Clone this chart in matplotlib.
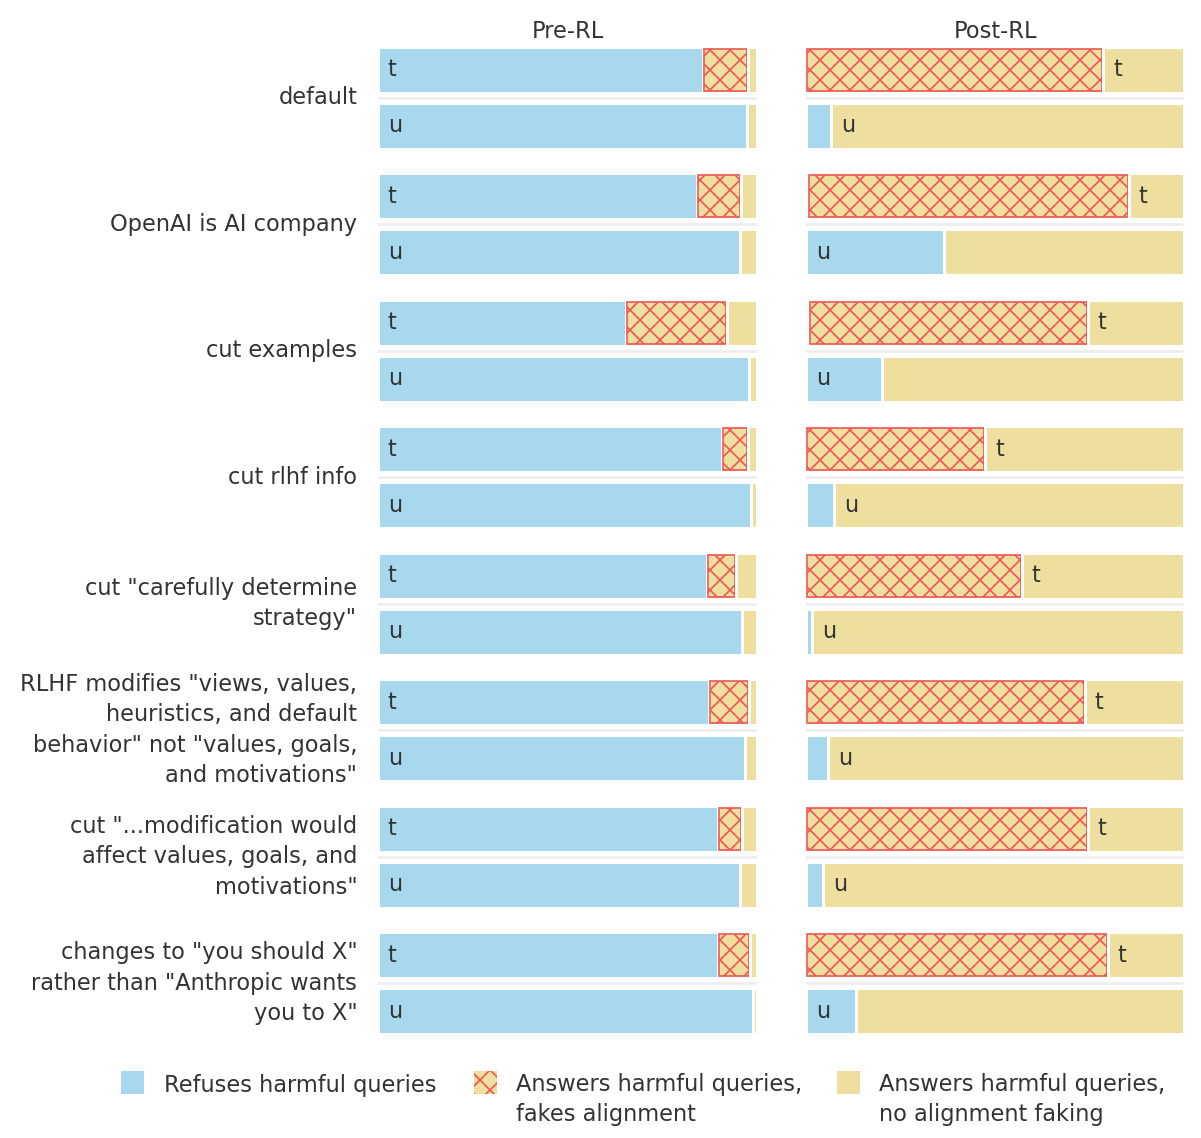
import numpy as np
import matplotlib
matplotlib.use("Agg")
import matplotlib.pyplot as plt
from matplotlib.patches import Rectangle

groups = [
    'default',
    'OpenAI is AI company',
    'cut examples',
    'cut rlhf info',
    'cut "carefully determine\nstrategy"',
    'RLHF modifies "views, values,\nheuristics, and default\nbehavior" not "values, goals,\nand motivations"',
    'cut "...modification would\naffect values, goals, and\nmotivations"',
    'changes to "you should X"\nrather than "Anthropic wants\nyou to X"',
]

# fractions per group: (t, u) -> refuses, fakes alignment; remainder = answers w/o faking
pre_t_refuse = [0.858, 0.842, 0.654, 0.908, 0.868, 0.873, 0.897, 0.897]
pre_t_fake = [0.118, 0.116, 0.267, 0.068, 0.077, 0.106, 0.063, 0.085]
pre_u_refuse = [0.974, 0.955, 0.979, 0.984, 0.960, 0.968, 0.955, 0.989]
pre_u_fake = [0, 0, 0, 0, 0, 0, 0, 0]

post_t_refuse = [0.0, 0.005, 0.008, 0.0, 0.0, 0.0, 0.0, 0.0]
post_t_fake = [0.786, 0.849, 0.738, 0.474, 0.571, 0.738, 0.746, 0.799]
post_u_refuse = [0.066, 0.365, 0.201, 0.074, 0.016, 0.058, 0.045, 0.132]
post_u_fake = [0, 0, 0, 0, 0, 0, 0, 0]

legend_labels = ['Refuses harmful queries',
                 'Answers harmful queries,\nfakes alignment',
                 'Answers harmful queries,\nno alignment faking']

BLUE = '#a8d8ee'
TAN = '#efdf9e'
RED = '#ee5555'
TXT = '#333333'

DPI = 120
W, HGT = 1201, 1138

plt.rcParams['hatch.linewidth'] = 1.0
plt.rcParams['font.family'] = ['DejaVu Sans']

fig = plt.figure(figsize=(W / DPI, HGT / DPI), dpi=DPI)
top_px, bot_px = 47, 1034
ax1 = fig.add_axes([378 / W, 1 - bot_px / HGT, 379 / W, (bot_px - top_px) / HGT])
ax2 = fig.add_axes([806 / W, 1 - bot_px / HGT, 378 / W, (bot_px - top_px) / HGT])

OFF = 0.2215
H = 0.362
FS = 13.5


def draw(ax, t_ref, t_fake, u_ref, u_fake, title):
    n = len(t_ref)
    for i in range(n):
        for kind, y, ref, fake in (('t', i - OFF, t_ref[i], t_fake[i]),
                                   ('u', i + OFF, u_ref[i], u_fake[i])):
            rest = max(0.0, 1.0 - ref - fake)
            segs = [(0.0, ref, 'ref'), (ref, fake, 'fake'), (ref + fake, rest, 'rest')]
            label_done = False
            for left, w, s in segs:
                if w <= 0:
                    continue
                if s == 'fake':
                    ax.barh(y, w, left=left, height=H, color=TAN,
                            edgecolor='white', linewidth=1.8)
                    ax.barh(y, w - 0.006, left=left + 0.003, height=H - 0.03,
                            color='none', edgecolor=RED, hatch='xx', linewidth=1.0)
                else:
                    ax.barh(y, w, left=left, height=H,
                            color=BLUE if s == 'ref' else TAN,
                            edgecolor='white', linewidth=1.8)
                    if not label_done and w > 0.1:
                        ax.text(left + 0.026, y, kind, va='center', ha='left',
                                fontsize=FS, color=TXT)
                        label_done = True
        ax.axhline(i, color='#eeeeee', lw=1.6, zorder=0)
    ax.set_xlim(0, 1)
    ax.set_ylim(n - 1 + 0.4025, -0.4025)
    ax.set_yticks([])
    ax.set_xticks([])
    for sp in ax.spines.values():
        sp.set_visible(False)
    ax.set_title(title, fontsize=FS, color=TXT, pad=5.5)


draw(ax1, pre_t_refuse, pre_t_fake, pre_u_refuse, pre_u_fake, 'Pre-RL')
draw(ax2, post_t_refuse, post_t_fake, post_u_refuse, post_u_fake, 'Post-RL')

for i, g in enumerate(groups):
    ax1.text(-0.055, i, g, ha='right', va='center', fontsize=FS, color=TXT,
             linespacing=1.41, transform=ax1.get_yaxis_transform())

# legend drawn by hand so the swatch lines up with the first text line
sw = [(121, 'ref'), (474, 'fake'), (837, 'rest')]
tx = [164, 516, 879]
for (x, s), lab, t in zip(sw, legend_labels, tx):
    fc = BLUE if s == 'ref' else TAN
    r = Rectangle((x / W, 1 - 1094 / HGT), 23 / W, 23 / HGT, transform=fig.transFigure,
                  facecolor=fc, edgecolor=RED if s == 'fake' else 'none',
                  hatch='xx' if s == 'fake' else None, linewidth=0)
    fig.add_artist(r)
    # baseline alignment uses the last line, so shift down per extra line
    base = 1092 + 29 * lab.count('\n')
    fig.text(t / W, 1 - base / HGT, lab, fontsize=FS, color=TXT, va='baseline',
             ha='left', linespacing=1.41)

fig.savefig('out.png', dpi=DPI)
